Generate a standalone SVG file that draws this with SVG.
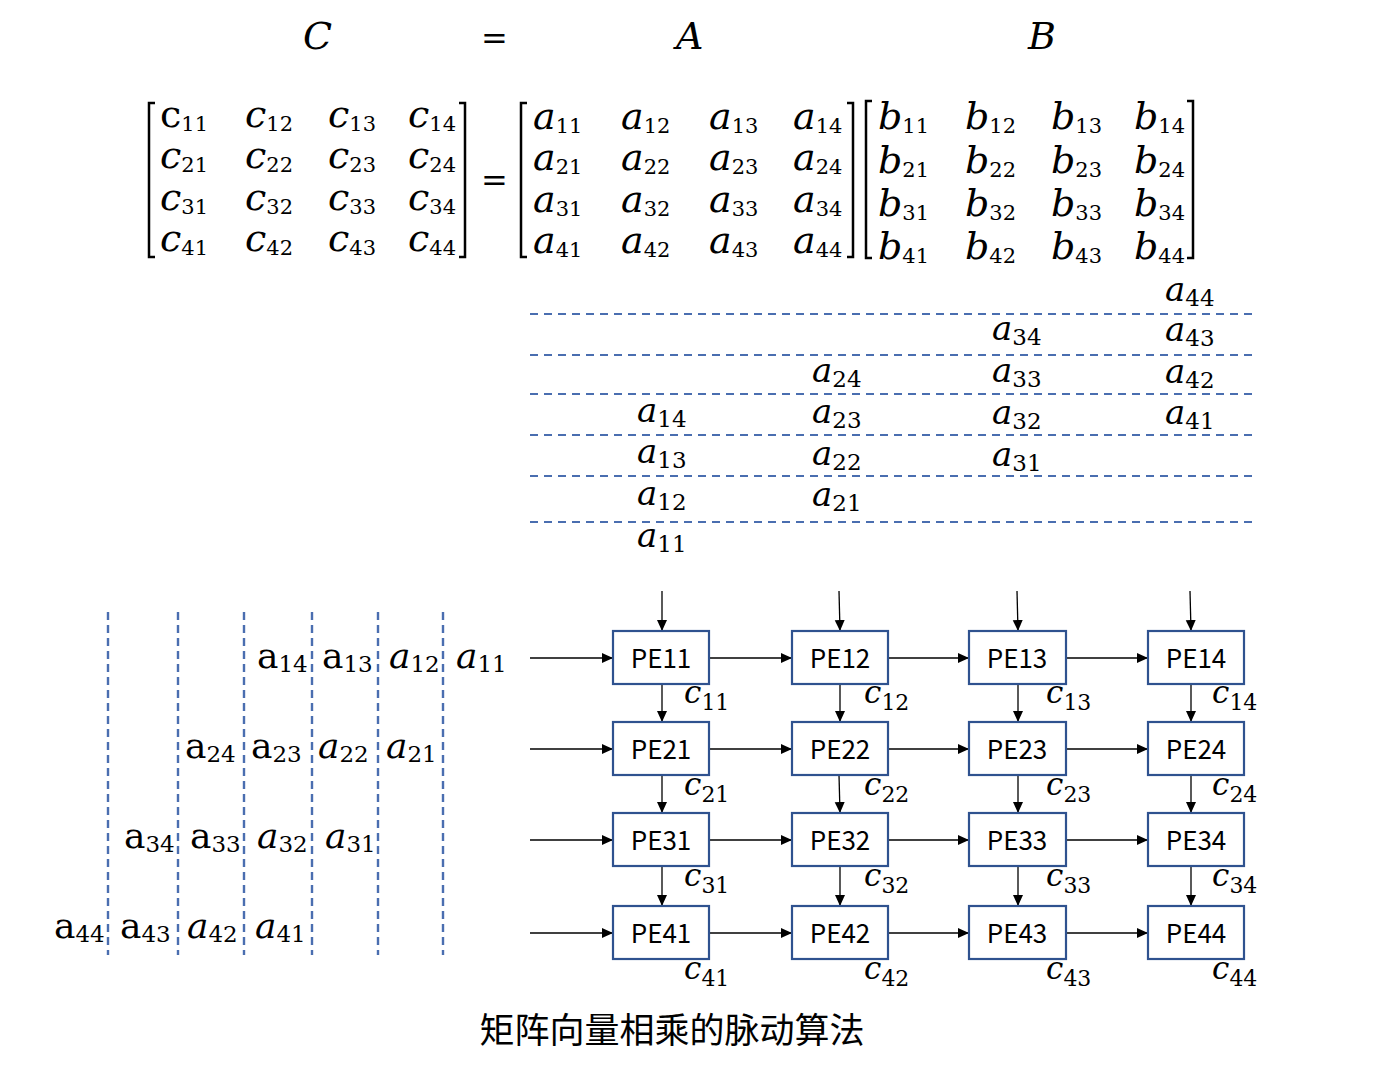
<svg xmlns="http://www.w3.org/2000/svg" width="1391" height="1065" viewBox="0 0 1391 1065">
<style>
.m{font-family:"DejaVu Serif","Liberation Serif",serif;font-style:italic;fill:#000}
.big{font-size:38px}
.mid{font-size:34px}
.ll{font-size:36px}
.cl{font-size:31px}
.u{font-style:normal}
.s{font-style:normal}
.sb{font-size:21px}
.sm{font-size:23px}
.sc{font-size:22px}
.br{fill:none;stroke:#000;stroke-width:2.5}
.dh{stroke:#4A6EB0;stroke-width:2;stroke-dasharray:8 6;fill:none}
.dv{stroke:#4A6EB0;stroke-width:2.4;stroke-dasharray:8 5;fill:none}
.box{fill:#fff;stroke:#2F528F;stroke-width:2.2}
.pe{font-family:"Noto Sans CJK SC","Noto Sans",sans-serif;font-size:26px;text-anchor:middle;fill:#000}
.ar{stroke:#000;stroke-width:1.3;fill:none;marker-end:url(#ah)}
.cap{font-family:"Noto Sans CJK SC",sans-serif;font-size:35px;text-anchor:middle;fill:#000}
</style>
<defs>
<marker id="ah" markerUnits="userSpaceOnUse" markerWidth="13" markerHeight="12" refX="11" refY="5" orient="auto">
<path d="M0,0 L11,5 L0,10 z" fill="#000"/>
</marker>
</defs>
<rect width="1391" height="1065" fill="#fff"/>

<g id="header">
<text class="m big" x="303" y="49">C</text>
<text class="m u" x="481" y="49" style="font-size:32px">=</text>
<text class="m big" x="676" y="49">A</text>
<text class="m big" x="1028" y="49">B</text>
</g>

<g id="matrixC">
<path class="br" d="M155,103 H149 V257 H155"/>
<path class="br" d="M459,103 H465 V257 H459"/>
<text class="m big" x="160" y="127"><tspan class="u">c</tspan><tspan class="s sb" dy="4">11</tspan></text>
<text class="m big" x="245" y="127">c<tspan class="s sb" dy="4">12</tspan></text>
<text class="m big" x="328" y="127">c<tspan class="s sb" dy="4">13</tspan></text>
<text class="m big" x="408" y="127">c<tspan class="s sb" dy="4">14</tspan></text>
<text class="m big" x="160" y="168">c<tspan class="s sb" dy="4">21</tspan></text>
<text class="m big" x="245" y="168">c<tspan class="s sb" dy="4">22</tspan></text>
<text class="m big" x="328" y="168">c<tspan class="s sb" dy="4">23</tspan></text>
<text class="m big" x="408" y="168">c<tspan class="s sb" dy="4">24</tspan></text>
<text class="m big" x="160" y="210">c<tspan class="s sb" dy="4">31</tspan></text>
<text class="m big" x="245" y="210">c<tspan class="s sb" dy="4">32</tspan></text>
<text class="m big" x="328" y="210">c<tspan class="s sb" dy="4">33</tspan></text>
<text class="m big" x="408" y="210">c<tspan class="s sb" dy="4">34</tspan></text>
<text class="m big" x="160" y="251">c<tspan class="s sb" dy="4">41</tspan></text>
<text class="m big" x="245" y="251">c<tspan class="s sb" dy="4">42</tspan></text>
<text class="m big" x="328" y="251">c<tspan class="s sb" dy="4">43</tspan></text>
<text class="m big" x="408" y="251">c<tspan class="s sb" dy="4">44</tspan></text>
</g>

<text class="m u" x="481" y="191" style="font-size:32px">=</text>

<g id="matrixA">
<path class="br" d="M527,103 H521 V257 H527"/>
<path class="br" d="M847,103 H853 V257 H847"/>
<text class="m big" x="533" y="129">a<tspan class="s sb" dy="4">11</tspan></text>
<text class="m big" x="621" y="129">a<tspan class="s sb" dy="4">12</tspan></text>
<text class="m big" x="709" y="129">a<tspan class="s sb" dy="4">13</tspan></text>
<text class="m big" x="793" y="129">a<tspan class="s sb" dy="4">14</tspan></text>
<text class="m big" x="533" y="170">a<tspan class="s sb" dy="4">21</tspan></text>
<text class="m big" x="621" y="170">a<tspan class="s sb" dy="4">22</tspan></text>
<text class="m big" x="709" y="170">a<tspan class="s sb" dy="4">23</tspan></text>
<text class="m big" x="793" y="170">a<tspan class="s sb" dy="4">24</tspan></text>
<text class="m big" x="533" y="212">a<tspan class="s sb" dy="4">31</tspan></text>
<text class="m big" x="621" y="212">a<tspan class="s sb" dy="4">32</tspan></text>
<text class="m big" x="709" y="212">a<tspan class="s sb" dy="4">33</tspan></text>
<text class="m big" x="793" y="212">a<tspan class="s sb" dy="4">34</tspan></text>
<text class="m big" x="533" y="253">a<tspan class="s sb" dy="4">41</tspan></text>
<text class="m big" x="621" y="253">a<tspan class="s sb" dy="4">42</tspan></text>
<text class="m big" x="709" y="253">a<tspan class="s sb" dy="4">43</tspan></text>
<text class="m big" x="793" y="253">a<tspan class="s sb" dy="4">44</tspan></text>
</g>

<g id="matrixB">
<path class="br" d="M872,101 H866 V258 H872"/>
<path class="br" d="M1187,101 H1193 V258 H1187"/>
<text class="m big" x="878" y="129">b<tspan class="s sb" dy="4">11</tspan></text>
<text class="m big" x="965" y="129">b<tspan class="s sb" dy="4">12</tspan></text>
<text class="m big" x="1051" y="129">b<tspan class="s sb" dy="4">13</tspan></text>
<text class="m big" x="1134" y="129">b<tspan class="s sb" dy="4">14</tspan></text>
<text class="m big" x="878" y="173">b<tspan class="s sb" dy="4">21</tspan></text>
<text class="m big" x="965" y="173">b<tspan class="s sb" dy="4">22</tspan></text>
<text class="m big" x="1051" y="173">b<tspan class="s sb" dy="4">23</tspan></text>
<text class="m big" x="1134" y="173">b<tspan class="s sb" dy="4">24</tspan></text>
<text class="m big" x="878" y="216">b<tspan class="s sb" dy="4">31</tspan></text>
<text class="m big" x="965" y="216">b<tspan class="s sb" dy="4">32</tspan></text>
<text class="m big" x="1051" y="216">b<tspan class="s sb" dy="4">33</tspan></text>
<text class="m big" x="1134" y="216">b<tspan class="s sb" dy="4">34</tspan></text>
<text class="m big" x="878" y="259">b<tspan class="s sb" dy="4">41</tspan></text>
<text class="m big" x="965" y="259">b<tspan class="s sb" dy="4">42</tspan></text>
<text class="m big" x="1051" y="259">b<tspan class="s sb" dy="4">43</tspan></text>
<text class="m big" x="1134" y="259">b<tspan class="s sb" dy="4">44</tspan></text>
</g>

<g id="skewA">
<line class="dh" x1="530" y1="314" x2="1252" y2="314"/>
<line class="dh" x1="530" y1="355" x2="1252" y2="355"/>
<line class="dh" x1="530" y1="394" x2="1252" y2="394"/>
<line class="dh" x1="530" y1="435" x2="1252" y2="435"/>
<line class="dh" x1="530" y1="476" x2="1252" y2="476"/>
<line class="dh" x1="530" y1="522" x2="1252" y2="522"/>
<text class="m mid" x="1165" y="301">a<tspan class="s sm" dy="5">44</tspan></text>
<text class="m mid" x="992" y="340">a<tspan class="s sm" dy="5">34</tspan></text>
<text class="m mid" x="1165" y="341">a<tspan class="s sm" dy="5">43</tspan></text>
<text class="m mid" x="812" y="382">a<tspan class="s sm" dy="5">24</tspan></text>
<text class="m mid" x="992" y="382">a<tspan class="s sm" dy="5">33</tspan></text>
<text class="m mid" x="1165" y="383">a<tspan class="s sm" dy="5">42</tspan></text>
<text class="m mid" x="637" y="422">a<tspan class="s sm" dy="5">14</tspan></text>
<text class="m mid" x="812" y="423">a<tspan class="s sm" dy="5">23</tspan></text>
<text class="m mid" x="992" y="424">a<tspan class="s sm" dy="5">32</tspan></text>
<text class="m mid" x="1165" y="424">a<tspan class="s sm" dy="5">41</tspan></text>
<text class="m mid" x="637" y="463">a<tspan class="s sm" dy="5">13</tspan></text>
<text class="m mid" x="812" y="465">a<tspan class="s sm" dy="5">22</tspan></text>
<text class="m mid" x="992" y="466">a<tspan class="s sm" dy="5">31</tspan></text>
<text class="m mid" x="637" y="505">a<tspan class="s sm" dy="5">12</tspan></text>
<text class="m mid" x="812" y="506">a<tspan class="s sm" dy="5">21</tspan></text>
<text class="m mid" x="637" y="547">a<tspan class="s sm" dy="5">11</tspan></text>
</g>

<g id="skewRows">
<line class="dv" x1="108" y1="612" x2="108" y2="955"/>
<line class="dv" x1="178" y1="612" x2="178" y2="955"/>
<line class="dv" x1="244" y1="612" x2="244" y2="955"/>
<line class="dv" x1="312" y1="612" x2="312" y2="955"/>
<line class="dv" x1="378" y1="612" x2="378" y2="955"/>
<line class="dv" x1="443" y1="612" x2="443" y2="955"/>
<text class="m ll u" x="257" y="668">a<tspan class="s sm" dy="4">14</tspan></text>
<text class="m ll u" x="322" y="668">a<tspan class="s sm" dy="4">13</tspan></text>
<text class="m ll" x="389" y="668">a<tspan class="s sm" dy="4">12</tspan></text>
<text class="m ll" x="456" y="668">a<tspan class="s sm" dy="4">11</tspan></text>
<text class="m ll u" x="185" y="758">a<tspan class="s sm" dy="4">24</tspan></text>
<text class="m ll u" x="251" y="758">a<tspan class="s sm" dy="4">23</tspan></text>
<text class="m ll" x="318" y="758">a<tspan class="s sm" dy="4">22</tspan></text>
<text class="m ll" x="386" y="758">a<tspan class="s sm" dy="4">21</tspan></text>
<text class="m ll u" x="124" y="848">a<tspan class="s sm" dy="4">34</tspan></text>
<text class="m ll u" x="190" y="848">a<tspan class="s sm" dy="4">33</tspan></text>
<text class="m ll" x="257" y="848">a<tspan class="s sm" dy="4">32</tspan></text>
<text class="m ll" x="325" y="848">a<tspan class="s sm" dy="4">31</tspan></text>
<text class="m ll u" x="54" y="938">a<tspan class="s sm" dy="4">44</tspan></text>
<text class="m ll u" x="120" y="938">a<tspan class="s sm" dy="4">43</tspan></text>
<text class="m ll" x="187" y="938">a<tspan class="s sm" dy="4">42</tspan></text>
<text class="m ll" x="255" y="938">a<tspan class="s sm" dy="4">41</tspan></text>
</g>

<g id="connectors">
<line class="ar" x1="530" y1="658" x2="613" y2="658"/>
<line class="ar" x1="709" y1="658" x2="792" y2="658"/>
<line class="ar" x1="888" y1="658" x2="969" y2="658"/>
<line class="ar" x1="1066" y1="658" x2="1148" y2="658"/>
<line class="ar" x1="530" y1="749" x2="613" y2="749"/>
<line class="ar" x1="709" y1="749" x2="792" y2="749"/>
<line class="ar" x1="888" y1="749" x2="969" y2="749"/>
<line class="ar" x1="1066" y1="749" x2="1148" y2="749"/>
<line class="ar" x1="530" y1="840" x2="613" y2="840"/>
<line class="ar" x1="709" y1="840" x2="792" y2="840"/>
<line class="ar" x1="888" y1="840" x2="969" y2="840"/>
<line class="ar" x1="1066" y1="840" x2="1148" y2="840"/>
<line class="ar" x1="530" y1="933" x2="613" y2="933"/>
<line class="ar" x1="709" y1="933" x2="792" y2="933"/>
<line class="ar" x1="888" y1="933" x2="969" y2="933"/>
<line class="ar" x1="1066" y1="933" x2="1148" y2="933"/>
<line class="ar" x1="662" y1="591" x2="662" y2="631"/>
<line class="ar" x1="839" y1="591" x2="840" y2="631"/>
<line class="ar" x1="1017" y1="591" x2="1018" y2="631"/>
<line class="ar" x1="1190" y1="591" x2="1191" y2="631"/>
<line class="ar" x1="662" y1="684" x2="662" y2="722"/>
<line class="ar" x1="840" y1="684" x2="840" y2="722"/>
<line class="ar" x1="1018" y1="684" x2="1018" y2="722"/>
<line class="ar" x1="1191" y1="684" x2="1191" y2="722"/>
<line class="ar" x1="662" y1="775" x2="662" y2="813"/>
<line class="ar" x1="839" y1="775" x2="840" y2="813"/>
<line class="ar" x1="1018" y1="775" x2="1018" y2="813"/>
<line class="ar" x1="1191" y1="775" x2="1191" y2="813"/>
<line class="ar" x1="662" y1="866" x2="662" y2="906"/>
<line class="ar" x1="840" y1="866" x2="840" y2="906"/>
<line class="ar" x1="1018" y1="866" x2="1018" y2="906"/>
<line class="ar" x1="1191" y1="866" x2="1191" y2="906"/>
</g>

<g id="PE11"><rect class="box" x="613" y="631" width="96" height="53"/><text class="pe" x="661" y="668">PE11</text></g>
<g id="PE12"><rect class="box" x="792" y="631" width="96" height="53"/><text class="pe" x="840" y="668">PE12</text></g>
<g id="PE13"><rect class="box" x="969" y="631" width="97" height="53"/><text class="pe" x="1017" y="668">PE13</text></g>
<g id="PE14"><rect class="box" x="1148" y="631" width="96" height="53"/><text class="pe" x="1196" y="668">PE14</text></g>
<g id="PE21"><rect class="box" x="613" y="722" width="96" height="53"/><text class="pe" x="661" y="759">PE21</text></g>
<g id="PE22"><rect class="box" x="792" y="722" width="96" height="53"/><text class="pe" x="840" y="759">PE22</text></g>
<g id="PE23"><rect class="box" x="969" y="722" width="97" height="53"/><text class="pe" x="1017" y="759">PE23</text></g>
<g id="PE24"><rect class="box" x="1148" y="722" width="96" height="53"/><text class="pe" x="1196" y="759">PE24</text></g>
<g id="PE31"><rect class="box" x="613" y="813" width="96" height="53"/><text class="pe" x="661" y="850">PE31</text></g>
<g id="PE32"><rect class="box" x="792" y="813" width="96" height="53"/><text class="pe" x="840" y="850">PE32</text></g>
<g id="PE33"><rect class="box" x="969" y="813" width="97" height="53"/><text class="pe" x="1017" y="850">PE33</text></g>
<g id="PE34"><rect class="box" x="1148" y="813" width="96" height="53"/><text class="pe" x="1196" y="850">PE34</text></g>
<g id="PE41"><rect class="box" x="613" y="906" width="96" height="53"/><text class="pe" x="661" y="943">PE41</text></g>
<g id="PE42"><rect class="box" x="792" y="906" width="96" height="53"/><text class="pe" x="840" y="943">PE42</text></g>
<g id="PE43"><rect class="box" x="969" y="906" width="97" height="53"/><text class="pe" x="1017" y="943">PE43</text></g>
<g id="PE44"><rect class="box" x="1148" y="906" width="96" height="53"/><text class="pe" x="1196" y="943">PE44</text></g>

<g id="cLabels">
<text class="m cl" x="684" y="703">c<tspan class="s sc" dy="7">11</tspan></text>
<text class="m cl" x="864" y="703">c<tspan class="s sc" dy="7">12</tspan></text>
<text class="m cl" x="1046" y="703">c<tspan class="s sc" dy="7">13</tspan></text>
<text class="m cl" x="1212" y="703">c<tspan class="s sc" dy="7">14</tspan></text>
<text class="m cl" x="684" y="795">c<tspan class="s sc" dy="7">21</tspan></text>
<text class="m cl" x="864" y="795">c<tspan class="s sc" dy="7">22</tspan></text>
<text class="m cl" x="1046" y="795">c<tspan class="s sc" dy="7">23</tspan></text>
<text class="m cl" x="1212" y="795">c<tspan class="s sc" dy="7">24</tspan></text>
<text class="m cl" x="684" y="886">c<tspan class="s sc" dy="7">31</tspan></text>
<text class="m cl" x="864" y="886">c<tspan class="s sc" dy="7">32</tspan></text>
<text class="m cl" x="1046" y="886">c<tspan class="s sc" dy="7">33</tspan></text>
<text class="m cl" x="1212" y="886">c<tspan class="s sc" dy="7">34</tspan></text>
<text class="m cl" x="684" y="979">c<tspan class="s sc" dy="7">41</tspan></text>
<text class="m cl" x="864" y="979">c<tspan class="s sc" dy="7">42</tspan></text>
<text class="m cl" x="1046" y="979">c<tspan class="s sc" dy="7">43</tspan></text>
<text class="m cl" x="1212" y="979">c<tspan class="s sc" dy="7">44</tspan></text>
</g>

<text class="cap" x="672" y="1043">矩阵向量相乘的脉动算法</text>
</svg>
